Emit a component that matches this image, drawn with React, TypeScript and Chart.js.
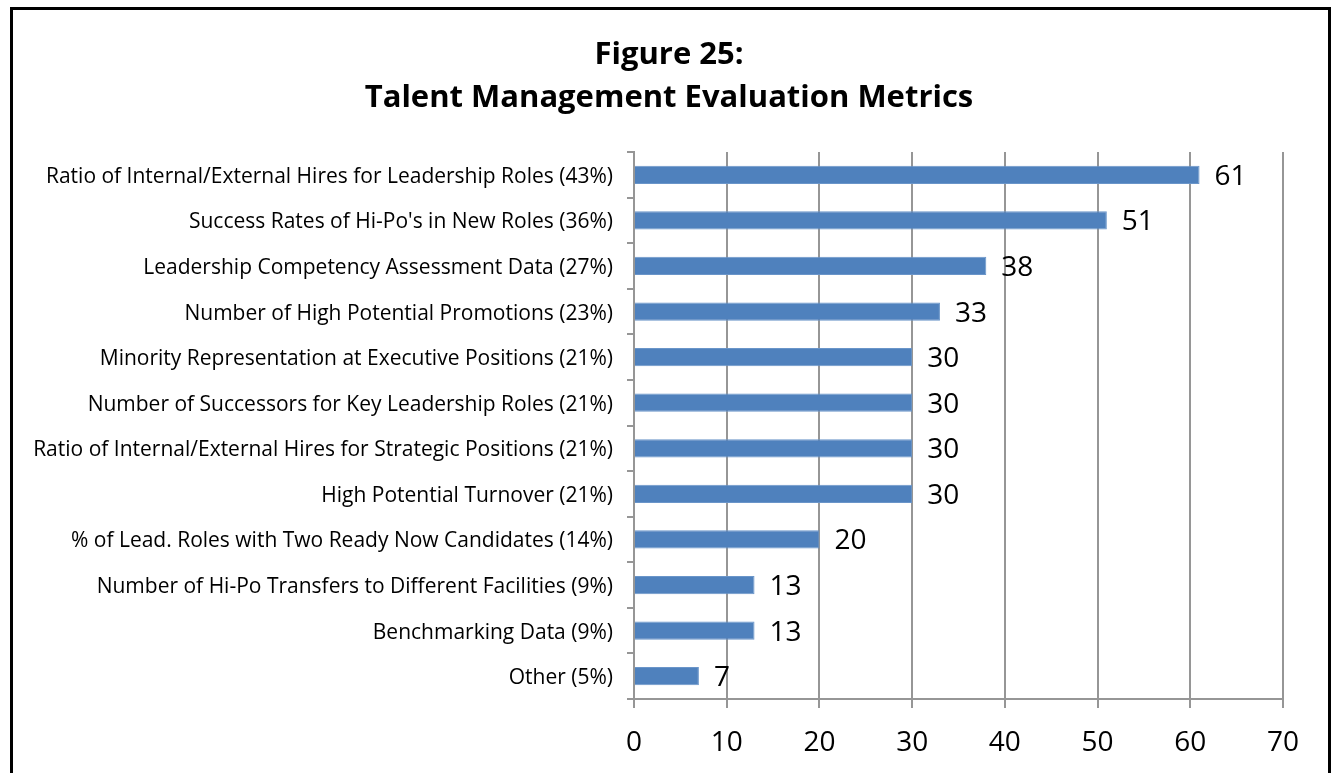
import React, { useEffect, useRef } from "react";
import { Chart, registerables } from "chart.js";

Chart.register(...registerables);

const titleLines = ["Figure 25:", "Talent Management Evaluation Metrics"];

const categories = [
  "Ratio of Internal/External Hires for Leadership Roles (43%)",
  "Success Rates of Hi-Po's in New Roles (36%)",
  "Leadership Competency Assessment Data (27%)",
  "Number of High Potential Promotions (23%)",
  "Minority Representation at Executive Positions (21%)",
  "Number of Successors for Key Leadership Roles (21%)",
  "Ratio of Internal/External Hires for Strategic Positions (21%)",
  "High Potential Turnover (21%)",
  "% of Lead. Roles with Two Ready Now Candidates (14%)",
  "Number of Hi-Po Transfers to Different Facilities (9%)",
  "Benchmarking Data (9%)",
  "Other (5%)",
];

const values = [61, 51, 38, 33, 30, 30, 30, 30, 20, 13, 13, 7];

const xMin = 0;
const xMax = 70;
const xStep = 10;

const FONT = "'Open Sans'";

const framePlugin = {
  id: "frameAndTitle",
  beforeDraw(chart: any) {
    const ctx = chart.ctx;
    ctx.save();
    ctx.fillStyle = "#ffffff";
    ctx.fillRect(0, 0, chart.width, chart.height);
    ctx.strokeStyle = "#000000";
    ctx.lineWidth = 3;
    ctx.strokeRect(11.5, 8.5, 1318, chart.height + 20);
    ctx.fillStyle = "#000000";
    ctx.font = `bold 31px ${FONT}`;
    ctx.textAlign = "center";
    ctx.textBaseline = "middle";
    ctx.fillText(titleLines[0], 669, 55);
    ctx.fillText(titleLines[1], 669, 98);
    ctx.restore();
  },
};

const labelPlugin = {
  id: "barValueLabels",
  afterDatasetsDraw(chart: any) {
    const ctx = chart.ctx;
    const meta = chart.getDatasetMeta(0);
    ctx.save();
    ctx.fillStyle = "#000000";
    ctx.font = `28px ${FONT}`;
    ctx.textAlign = "left";
    ctx.textBaseline = "middle";
    meta.data.forEach((el: any, i: number) => {
      ctx.fillText(String(values[i]), el.x + 15, el.y + 2);
    });
    ctx.restore();
  },
};

export default function App() {
  const ref = useRef<HTMLCanvasElement>(null);
  useEffect(() => {
    if (!ref.current) return;
    const chart = new Chart(ref.current, {
      type: "bar",
      data: {
        labels: categories,
        datasets: [
          {
            data: values,
            backgroundColor: "#4F81BD",
            borderColor: "#6A95C9",
            borderWidth: 1,
            barPercentage: 0.4,
            categoryPercentage: 1,
          },
        ],
      },
      options: {
        indexAxis: "y",
        animation: false,
        responsive: false,
        maintainAspectRatio: false,
        devicePixelRatio: 1,
        layout: { padding: { top: 152, right: 52, left: 0, bottom: 0 } },
        plugins: {
          legend: { display: false },
          title: { display: false },
          tooltip: { enabled: false },
        },
        scales: {
          x: {
            min: xMin,
            max: xMax,
            ticks: {
              stepSize: xStep,
              color: "#000000",
              font: { family: FONT, size: 28 },
              padding: 18,
            },
            grid: {
              color: "#969696",
              lineWidth: 2,
              tickLength: 9,
              drawTicks: true,
            },
            border: { display: true, color: "#969696", width: 2 },
            afterFit(s: any) {
              s.height = 74;
            },
          },
          y: {
            ticks: {
              color: "#000000",
              font: { family: FONT, size: 21 },
              padding: 14,
              labelOffset: 2,
            },
            grid: {
              drawOnChartArea: false,
              drawTicks: true,
              tickLength: 7,
              color: "#969696",
              lineWidth: 2,
              offset: true,
            },
            border: { display: true, color: "#969696", width: 2 },
            afterFit(s: any) {
              s.width = 634;
            },
          },
        },
      },
      plugins: [framePlugin, labelPlugin],
    } as any);
    return () => chart.destroy();
  }, []);
  return (
    <div style={{ position: "fixed", left: 0, top: 0, width: 1335, height: 773, background: "#fff" }}>
      <canvas ref={ref} width={1335} height={773} style={{ width: 1335, height: 773 }} />
    </div>
  );
}
